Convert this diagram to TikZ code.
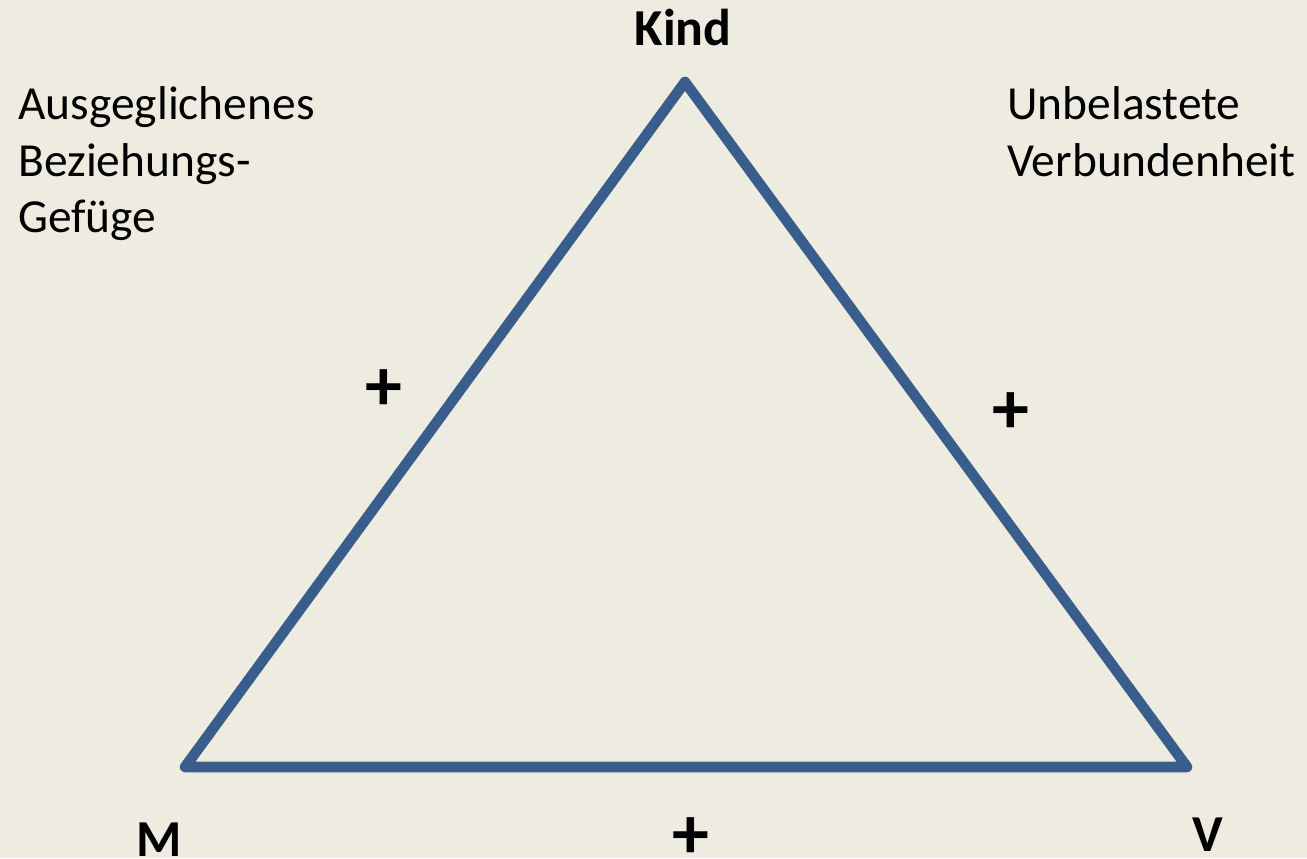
\documentclass[tikz,border=0pt]{standalone}
\usepackage{fontspec}
\setmainfont{Carlito}
\usetikzlibrary{positioning}
\definecolor{bgpaper}{HTML}{EEEBE0}
\definecolor{triblue}{HTML}{3A5E8C}

\begin{document}
\begin{tikzpicture}[x=0.02cm, y=-0.02cm,
      font=\fontsize{27pt}{32.4pt}\selectfont,
      lbl/.style={inner sep=0pt, align=left, anchor=base west},
      vtx/.style={inner sep=0pt, anchor=base, font=\fontsize{29.5pt}{35pt}\selectfont\bfseries},
      sgn/.style={inner sep=0pt, font=\fontsize{42pt}{48pt}\selectfont\bfseries},
      edge/.style={draw=triblue, line width=6pt, line join=round, line cap=round}]
    \fill[bgpaper] (0,0) rectangle (1307,858);
    \useasboundingbox (0,0) rectangle (1307,858);
    % corners of the triangle
    \coordinate (k) at (685,82);
    \coordinate (m) at (185,767);
    \coordinate (v) at (1187,767);
    \draw[edge] (k) -- (v) -- (m) -- cycle;
    % vertex labels
    \node[vtx] (kind) at (683,46) {Kind};
    \node[vtx] (mlab) at (159,856) {M};
    \node[vtx] (vlab) at (1208,851) {V};
    % side labels (base = last line)
    \node[lbl] (left) at (18,233) {Ausgeglichenes\\Beziehungs-\\Gefüge};
    \node[lbl] (right) at (1007,176) {Unbelastete\\Verbundenheit};
    \node[sgn] (pl) at (384,390) {+};
    \node[sgn] (pr) at (1011,413) {+};
    \node[sgn] (pb) at (691,838) {+};
  \end{tikzpicture}
\end{document}
